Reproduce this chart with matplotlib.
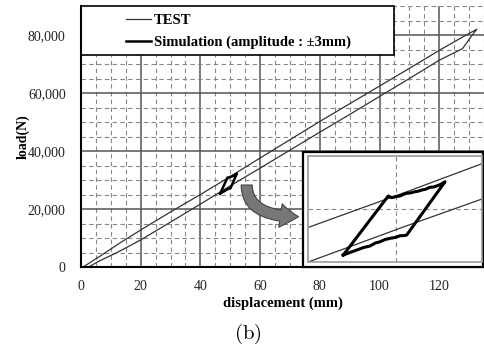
import numpy as np
import matplotlib
matplotlib.use("Agg")
import matplotlib.pyplot as plt
from matplotlib.patches import Rectangle, FancyArrowPatch
from matplotlib.ticker import FuncFormatter

plt.rcParams['font.family'] = 'Liberation Serif'
plt.rcParams['mathtext.fontset'] = 'cm'

# test hysteresis loop: loading branch up to the peak, then unloading back
test_x = [0.7, 6, 13.5, 20.2, 30, 40, 50, 60, 70, 80, 90, 100, 110, 120, 128, 132.6,
          131, 127.8, 120, 110, 100, 90, 80, 70, 60, 50, 40, 30, 20.2, 12.4, 6, 2.5]
test_y = [0, 3500, 8600, 12900, 19000, 25000, 31200, 37600, 43900, 50200, 56300, 62400,
          68500, 74700, 79400, 82000,
          79900, 75300, 71300, 65000, 58800, 52600, 46500, 40300, 34100, 28000, 21700,
          15500, 9450, 5170, 2000, 0]

# simulated loop, amplitude +-3 mm around 50 mm
sim_x = [46.6, 49.07, 49.26, 49.5, 49.72, 49.9, 50.08, 50.3, 50.54, 50.7, 50.91, 51.1,
         51.36, 51.55, 51.73, 51.95, 52.19, 50.08, 49.9, 49.72, 49.45, 49.17, 48.9,
         48.62, 48.35, 48.07, 47.7, 47.34, 47.0, 46.6]
sim_y = [25300, 30856, 30700, 30800, 30860, 31010, 31110, 31150, 31260, 31300, 31420,
         31480, 31675, 31700, 31800, 31950, 32200, 27180, 27120, 27117, 26950, 26870,
         26760, 26550, 26420, 26150, 26000, 25770, 25560, 25300]

x_major = [0, 20, 40, 60, 80, 100, 120]
y_major = [0, 20000, 40000, 60000, 80000]
labels = ['TEST', 'Simulation (amplitude : \u00b13mm)']

fig = plt.figure(figsize=(4.84, 3.46), dpi=100)
ax = fig.add_axes([0.1674, 0.2283, 0.8326, 0.7543])

l1, = ax.plot(test_x, test_y, color='#333333', lw=0.9, zorder=3)
l2, = ax.plot(sim_x, sim_y, color='black', lw=1.8, zorder=3)

ax.set_xlim(0, 135)
ax.set_ylim(0, 90000)
ax.set_xticks(x_major)
ax.set_xticks(np.arange(0, 136, 5), minor=True)
ax.set_yticks(y_major)
ax.set_yticks(np.arange(0, 90001, 5000), minor=True)
ax.yaxis.set_major_formatter(FuncFormatter(lambda v, p: f"{v:,.0f}"))
ax.grid(which='major', color='#555555', lw=1.1, ls='-')
ax.grid(which='minor', color='#888888', lw=0.8, ls=(0, (4, 3)))
ax.set_axisbelow(True)
ax.tick_params(which='both', length=0, labelsize=10, colors='#222222')
ax.tick_params(axis='x', pad=9)
ax.tick_params(axis='y', pad=11)
for s in ['top', 'right']:
    ax.spines[s].set_visible(False)
for s in ['left', 'bottom']:
    ax.spines[s].set_linewidth(1.5)
    ax.spines[s].set_zorder(5)

ax.set_xlabel('displacement (mm)', fontsize=10.5, fontweight='bold', labelpad=3)
ax.set_ylabel('load(N)', fontsize=10, fontweight='bold', labelpad=-1)

# legend box
ax.add_patch(Rectangle((0, 1 - 0.188), 0.776, 0.188, transform=ax.transAxes,
                       fc='white', ec='black', lw=1.2, zorder=4, clip_on=False))
leg = ax.legend([l1, l2], labels, loc='center', bbox_to_anchor=(0.39, 0.903),
                frameon=False, prop={'weight': 'bold', 'size': 10.5},
                handlelength=1.7, handletextpad=0.2, labelspacing=0.6)
leg.set_zorder(6)

# zoomed view of the simulated loop
fig.add_artist(Rectangle((0.6267, 0.2292), 0.3712, 0.3324, transform=fig.transFigure,
                         fc='white', ec='black', lw=1.6, zorder=2))
ins = fig.add_axes([0.637, 0.2436, 0.3582, 0.3055], zorder=3)
ins.plot(test_x, test_y, color='#333333', lw=0.9)
ins.plot(sim_x, sim_y, color='black', lw=2.2)
ins.set_xlim(44.68, 54.2)
ins.set_ylim(24670, 34620)
ins.set_xticks([49.5])
ins.set_yticks([29600])
ins.grid(color='#888888', lw=0.8, ls=(0, (4, 3)))
ins.tick_params(length=0, labelbottom=False, labelleft=False)
for s in ins.spines.values():
    s.set_color('#999999')
    s.set_linewidth(1.2)

arrow = FancyArrowPatch(posA=(246.7 / 484, 1 - 185 / 346), posB=(298.5 / 484, 1 - 216.7 / 346),
                        transform=fig.transFigure,
                        connectionstyle='angle3,angleA=-90,angleB=0',
                        arrowstyle='simple,head_length=13,head_width=17,tail_width=8',
                        mutation_scale=1, fc='#777777', ec='#444444', lw=0.8,
                        shrinkA=0, shrinkB=0, zorder=2)
fig.add_artist(arrow)

fig.text(248 / 484, 1 - 334 / 346, r'$(\mathrm{b})$', ha='center', va='center', fontsize=15)

fig.savefig('out.png', dpi=100, facecolor='white')
